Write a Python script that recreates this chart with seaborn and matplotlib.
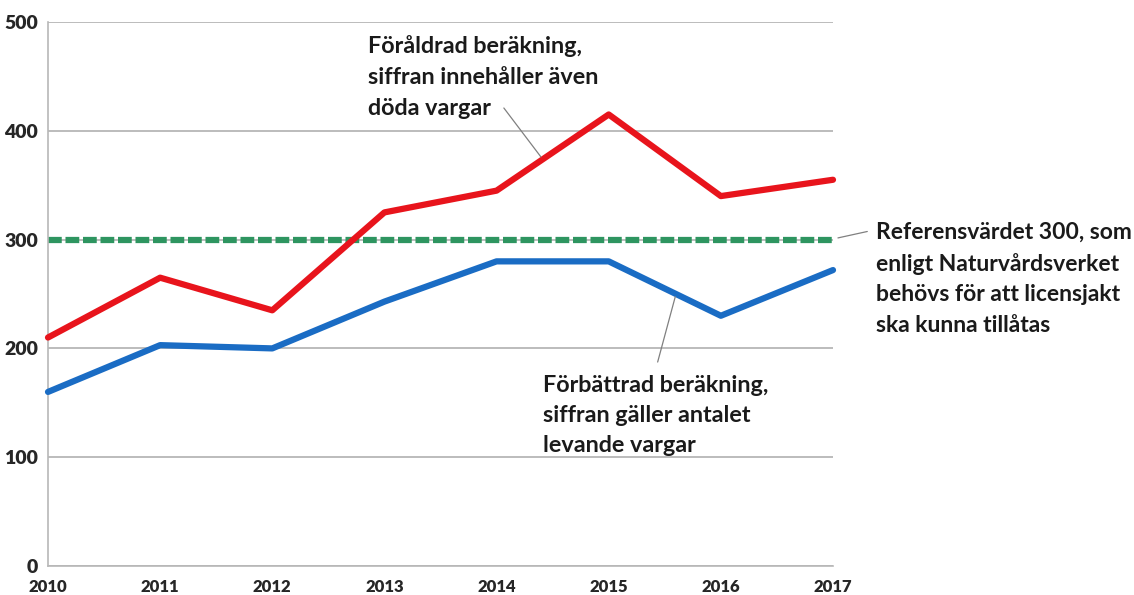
import matplotlib
matplotlib.use("Agg")
import matplotlib.pyplot as plt
import seaborn as sns
import pandas as pd

years = [2010, 2011, 2012, 2013, 2014, 2015, 2016, 2017]
old_calc = [210, 265, 235, 325, 345, 415, 340, 355]
new_calc = [160, 203, 200, 243, 280, 280, 230, 272]
reference_value = 300
y_ticks = [0, 100, 200, 300, 400, 500]

label_old = "Föråldrad beräkning,\nsiffran innehåller även\ndöda vargar"
label_new = "Förbättrad beräkning,\nsiffran gäller antalet\nlevande vargar"
label_ref = "Referensvärdet 300, som\nenligt Naturvårdsverket\nbehövs för att licensjakt\nska kunna tillåtas"

sns.set_theme(style="white")
plt.rcParams['font.family'] = ['Lato', 'DejaVu Sans']

df = pd.DataFrame({"year": years, "old": old_calc, "new": new_calc})

fig = plt.figure(figsize=(11.34, 5.95), dpi=100)
ax = fig.add_axes([48/1134, 29/595, (833-48)/1134, (566-22)/595])

ax.set_ylim(0, 500)
ax.set_xlim(2010, 2017)
ax.set_yticks(y_ticks)
ax.set_xticks(years)
ax.grid(axis="y", color="#b0b0b0", linewidth=1.2)
ax.set_axisbelow(True)

sns.lineplot(data=df, x="year", y="old", ax=ax, color="#e8141c", linewidth=4.5, zorder=3, clip_on=False)
sns.lineplot(data=df, x="year", y="new", ax=ax, color="#1a6cc4", linewidth=4.5, zorder=3, clip_on=False)
ax.axhline(reference_value, color="#2e9560", linewidth=4.5, linestyle=(0, (2.2, 0.6)), zorder=2)

for s in ["top", "right"]:
    ax.spines[s].set_visible(False)
for s in ["left", "bottom"]:
    ax.spines[s].set_color("#b8b8b8")
    ax.spines[s].set_linewidth(1.2)

ax.tick_params(axis="both", which="both", length=6, color="#b8b8b8", width=1.2, pad=1)
ax.tick_params(axis="x", direction="out", length=6, pad=3)
ax.set_xlabel("")
ax.set_ylabel("")
tick_family = ["Lato", "DejaVu Sans"]
ax.set_yticklabels([str(v) for v in y_ticks], fontfamily=tick_family, fontweight="heavy", fontsize=14)
ax.set_xticklabels([str(v) for v in years], fontfamily=tick_family, fontweight="heavy", fontsize=12)

txt_kw = dict(fontweight="bold", color="#1a1a1a", va="top", ha="left", clip_on=False)
ax.text(2012.85, 488, label_old, fontsize=16.8, linespacing=1.6, **txt_kw)
ax.text(2014.41, 176, label_new, fontsize=16.8, linespacing=1.55, **txt_kw)
ax.text(2017.38, 316, label_ref, fontsize=16.5, linespacing=1.55, **txt_kw)

line_kw = dict(arrowprops=dict(arrowstyle="-", color="#808080", lw=0.9), annotation_clip=False)
ax.annotate("", xy=(2014.41, 374), xytext=(2014.05, 423), **line_kw)
ax.annotate("", xy=(2015.6, 250), xytext=(2015.43, 185), **line_kw)
ax.annotate("", xy=(2017.02, 301), xytext=(2017.33, 308), **line_kw)

fig.savefig("out.png", dpi=100)
